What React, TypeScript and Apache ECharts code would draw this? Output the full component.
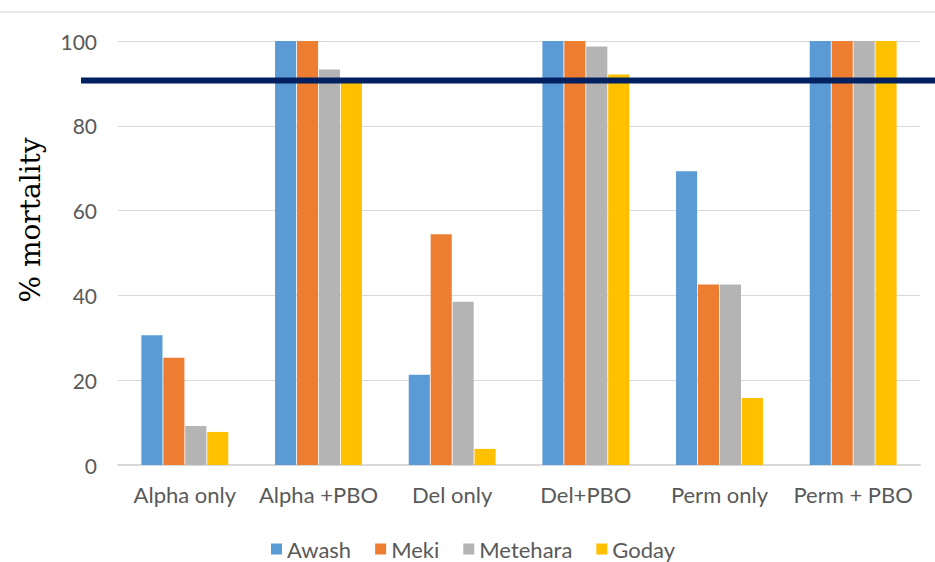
import React, { useEffect, useRef } from "react";
import * as echarts from "echarts";

const categories = ["Alpha only", "Alpha +PBO", "Del only", "Del+PBO", "Perm only", "Perm + PBO"];
const seriesNames = ["Awash", "Meki", "Metehara", "Goday"];
const awash = [30.6, 100, 21.3, 100, 69.3, 100];
const meki = [25.3, 100, 54.4, 100, 42.6, 100];
const metehara = [9.2, 93.3, 38.5, 98.7, 42.6, 100];
const goday = [7.8, 90.3, 3.8, 92.1, 15.8, 100];
const seriesValues = [awash, meki, metehara, goday];
const seriesColors = ["#5B9BD5", "#ED7D31", "#B4B4B4", "#FFC000"];
const yTicks = { min: 0, max: 100, interval: 20 };
const threshold = 90.7;

const labelFont = "Lato, 'Open Sans', sans-serif";
const textGrey = "#595959";

export default function App() {
  const ref = useRef<HTMLDivElement>(null);

  useEffect(() => {
    if (!ref.current) return;
    const chart = echarts.init(ref.current, undefined, { renderer: "svg" });
    chart.setOption({
      animation: false,
      backgroundColor: "#ffffff",
      grid: { left: 118, right: 15, top: 41, bottom: 97, containLabel: false },
      legend: {
        data: seriesNames,
        top: 538,
        left: 271,
        padding: 0,
        itemWidth: 11,
        itemHeight: 11,
        itemGap: 24,
        icon: "rect",
        textStyle: { fontFamily: labelFont, fontSize: 22, color: textGrey, lineHeight: 22 },
      },
      xAxis: {
        type: "category",
        data: categories,
        axisTick: { show: false },
        axisLine: { lineStyle: { color: "#d9d9d9", width: 2 } },
        axisLabel: { interval: 0, fontFamily: labelFont, fontSize: 22, color: textGrey, margin: 18 },
      },
      yAxis: {
        type: "value",
        min: yTicks.min,
        max: yTicks.max,
        interval: yTicks.interval,
        axisLine: { show: false },
        axisTick: { show: false },
        splitLine: { lineStyle: { color: "#d9d9d9", width: 1 } },
        axisLabel: { fontFamily: labelFont, fontSize: 21, color: textGrey, margin: 21 },
      },
      series: seriesNames.map((name, i) => ({
        name,
        type: "bar",
        data: seriesValues[i],
        barGap: "4%",
        barCategoryGap: "35%",
        itemStyle: { color: seriesColors[i] },
      })),
    });

    // Threshold line and frame drawn on top, placed through the value axis.
    const yLine = chart.convertToPixel({ yAxisIndex: 0 }, threshold) as number;
    chart.setOption({
      graphic: [
        {
          type: "line",
          shape: { x1: 0, y1: 12, x2: 935, y2: 12 },
          style: { stroke: "#e3e3e3", lineWidth: 1.5 },
          z: 1,
        },
        {
          type: "line",
          shape: { x1: 81, y1: yLine, x2: 935, y2: yLine },
          style: { stroke: "#002060", lineWidth: 6 },
          z: 100,
        },
        {
          type: "text",
          x: 30,
          y: 220,
          rotation: Math.PI / 2,
          style: {
            text: "% mortality",
            font: "28px 'DejaVu Serif', 'Liberation Serif', serif",
            fill: "#000000",
            textAlign: "center",
            textVerticalAlign: "middle",
          },
        },
      ],
    });

    return () => chart.dispose();
  }, []);

  return (
    <div
      ref={ref}
      style={{ position: "fixed", left: 0, top: 0, width: 935, height: 562 }}
    />
  );
}
